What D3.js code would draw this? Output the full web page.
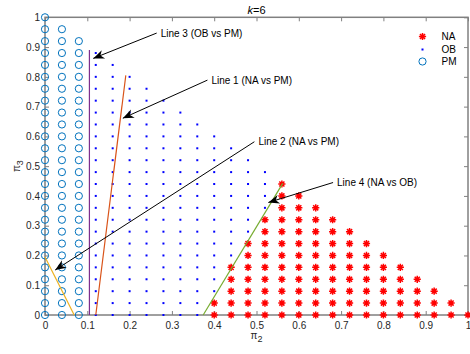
<!DOCTYPE html>
<html>
<head>
<meta charset="utf-8">
<script src="https://cdn.jsdelivr.net/npm/d3@7/dist/d3.min.js"></script>
<style>
  html, body { margin: 0; padding: 0; background: #fff; }
  svg { display: block; font-family: "Liberation Sans", Arial, Helvetica, sans-serif; }
</style>
</head>
<body>
<svg id="chart" width="470" height="354"></svg>
<script>
// ---------------- data ----------------
const gridStep = 0.04;
const tickValues = [0, 0.1, 0.2, 0.3, 0.4, 0.5, 0.6, 0.7, 0.8, 0.9, 1];
const tickLabels = ["0", "0.1", "0.2", "0.3", "0.4", "0.5", "0.6", "0.7", "0.8", "0.9", "1"];

// PM region: columns of pi2, each from pi3 = 0 to 1 - pi2
const pmColumns = [0, 0.04, 0.08];
const pmBottom  = [0, 0, 0];
const pmTop     = [1.00, 0.96, 0.92];

// OB region: columns of pi2 with lowest / highest pi3
const obColumns = [0.12, 0.16, 0.20, 0.24, 0.28, 0.32, 0.36, 0.40, 0.44, 0.48, 0.52];
const obBottom  = [0, 0, 0, 0, 0, 0, 0, 0.08, 0.20, 0.28, 0.36];
const obTop     = [0.88, 0.84, 0.80, 0.76, 0.72, 0.68, 0.64, 0.60, 0.56, 0.52, 0.48];

// NA region
const naColumns = [0.40, 0.44, 0.48, 0.52, 0.56, 0.60, 0.64, 0.68, 0.72, 0.76, 0.80, 0.84, 0.88, 0.92, 0.96, 1.00];
const naBottom  = [0, 0, 0, 0, 0, 0, 0, 0, 0, 0, 0, 0, 0, 0, 0, 0];
const naTop     = [0.04, 0.16, 0.24, 0.32, 0.44, 0.40, 0.36, 0.32, 0.28, 0.24, 0.20, 0.16, 0.12, 0.08, 0.04, 0];

// boundary lines (pi2, pi3 endpoints)
const line1 = [[0.120, 0], [0.191, 0.805]];   // NA vs PM
const line2 = [[0, 0.195], [0.069, 0]];       // NA vs PM
const line3 = [[0.105, 0], [0.105, 0.89]];    // OB vs PM
const line4 = [[0.374, 0], [0.562, 0.442]];   // NA vs OB

const annotationTexts = ["Line 1 (NA vs PM)", "Line 2 (NA vs PM)", "Line 3 (OB vs PM)", "Line 4 (NA vs OB)"];
// arrow tail (at label) and tip, in data units
const arrowTails = [[0.384, 0.789], [0.495, 0.582], [0.264, 0.947], [0.681, 0.445]];
const arrowTips  = [[0.184, 0.661], [0.024, 0.151], [0.114, 0.862], [0.528, 0.378]];

const legendLabels = ["NA", "OB", "PM"];

// ---------------- layout ----------------
const svg = d3.select("#chart");
const x = d3.scaleLinear().domain([0, 1]).range([45, 468]);
const y = d3.scaleLinear().domain([0, 1]).range([315, 17.3]);

const axisColor = "#808080";
const textColor = "#262626";
const colNA = "#ff0000", colOB = "#0000ff", colPM = "#0072bd";
const lineColors = ["#d95319", "#edb120", "#7e2f8e", "#77ac30"];

function columnPoints(cols, bottoms, tops) {
  const pts = [];
  cols.forEach((c, i) => {
    const n = Math.round((tops[i] - bottoms[i]) / gridStep);
    for (let k = 0; k <= n; k++) pts.push([c, bottoms[i] + k * gridStep]);
  });
  return pts;
}

// ---------------- axes ----------------
const axG = svg.append("g");
function styleAxis(g) {
  g.select(".domain").remove();
  g.selectAll(".tick line").attr("stroke", axisColor).attr("stroke-width", 1);
  g.selectAll(".tick text").attr("fill", textColor).attr("font-size", 10)
    .attr("font-family", "Liberation Sans, Arial, sans-serif");
}
axG.append("g").attr("transform", `translate(0,${y(0)})`)
  .call(d3.axisBottom(x).tickValues(tickValues).tickFormat((d, i) => tickLabels[i]).tickSize(-4).tickPadding(7))
  .call(styleAxis);
axG.append("g").attr("transform", `translate(0,${y(1)})`)
  .call(d3.axisTop(x).tickValues(tickValues).tickFormat("").tickSize(-4))
  .call(styleAxis);
axG.append("g").attr("transform", `translate(${x(0)},0)`)
  .call(d3.axisLeft(y).tickValues(tickValues).tickFormat((d, i) => tickLabels[i]).tickSize(-4).tickPadding(5))
  .call(styleAxis);
axG.append("g").attr("transform", `translate(${x(1)},0)`)
  .call(d3.axisRight(y).tickValues(tickValues).tickFormat("").tickSize(-4))
  .call(styleAxis);
axG.append("rect")
  .attr("x", x(0)).attr("y", y(1)).attr("width", x(1) - x(0)).attr("height", y(0) - y(1))
  .attr("fill", "none").attr("stroke", axisColor).attr("stroke-width", 1.5);

// ---------------- markers ----------------
const starPath = (cx, cy, r) => {
  const d = r * 0.7071;
  return `M${cx - r},${cy}L${cx + r},${cy}M${cx},${cy - r}L${cx},${cy + r}` +
         `M${cx - d},${cy - d}L${cx + d},${cy + d}M${cx - d},${cy + d}L${cx + d},${cy - d}`;
};

const pmPts = columnPoints(pmColumns, pmBottom, pmTop);
svg.append("g").selectAll("circle").data(pmPts).join("circle")
  .attr("cx", d => x(d[0])).attr("cy", d => y(d[1])).attr("r", 3.6)
  .attr("fill", "none").attr("stroke", colPM).attr("stroke-width", 1);

const obPts = columnPoints(obColumns, obBottom, obTop);
svg.append("g").selectAll("rect").data(obPts).join("rect")
  .attr("x", d => x(d[0]) - 1).attr("y", d => y(d[1]) - 1).attr("width", 2).attr("height", 2)
  .attr("fill", colOB);

const naPts = columnPoints(naColumns, naBottom, naTop);
svg.append("g").selectAll("path").data(naPts).join("path")
  .attr("d", d => starPath(x(d[0]), y(d[1]), 3.6))
  .attr("stroke", colNA).attr("stroke-width", 1.5).attr("fill", "none");

// ---------------- boundary lines ----------------
const lineGen = d3.line().x(d => x(d[0])).y(d => y(d[1]));
[line1, line2, line3, line4].forEach((ln, i) => {
  svg.append("path").attr("d", lineGen(ln)).attr("stroke", lineColors[i])
    .attr("stroke-width", 1.2).attr("fill", "none");
});

// ---------------- annotations ----------------
function arrowHead(tx, ty, fx, fy) {
  const ang = Math.atan2(ty - fy, tx - fx);
  const L = 11, W = 4.5;
  const pts = [[0, 0], [-L, -W], [-L * 0.7, 0], [-L, W]].map(([a, b]) => [
    tx + a * Math.cos(ang) - b * Math.sin(ang),
    ty + a * Math.sin(ang) + b * Math.cos(ang)
  ]);
  return "M" + pts.map(p => p.join(",")).join("L") + "Z";
}
const annG = svg.append("g");
annotationTexts.forEach((t, i) => {
  const [fx, fy] = [x(arrowTails[i][0]), y(arrowTails[i][1])];
  const [tx, ty] = [x(arrowTips[i][0]), y(arrowTips[i][1])];
  annG.append("line").attr("x1", fx).attr("y1", fy).attr("x2", tx).attr("y2", ty)
    .attr("stroke", "#000").attr("stroke-width", 1);
  annG.append("path").attr("d", arrowHead(tx, ty, fx, fy)).attr("fill", "#000");
  annG.append("text").attr("x", fx + 4).attr("y", fy).attr("dy", "0.35em")
    .attr("font-size", 10).attr("fill", "#000").text(t);
});

// ---------------- title & axis labels ----------------
const title = svg.append("text").attr("x", (x(0) + x(1)) / 2).attr("y", 13.5)
  .attr("text-anchor", "middle").attr("font-size", 11).attr("fill", "#000");
title.append("tspan").attr("font-style", "italic").text("k");
title.append("tspan").text("=6");

const xl = svg.append("text").attr("x", (x(0) + x(1)) / 2).attr("y", 339)
  .attr("text-anchor", "middle").attr("font-size", 10).attr("fill", textColor);
xl.append("tspan").text("π");
xl.append("tspan").attr("font-size", 9).attr("dy", 3).text("2");

const yl = svg.append("text").attr("transform", `translate(20,${(y(0) + y(1)) / 2}) rotate(-90)`)
  .attr("text-anchor", "middle").attr("font-size", 10).attr("fill", textColor);
yl.append("tspan").text("π");
yl.append("tspan").attr("font-size", 9).attr("dy", 3).text("3");

// ---------------- legend ----------------
const lg = svg.append("g");
const legY = [36.5, 49.5, 61.5];
const lgX = 422.5;
lg.append("path").attr("d", starPath(lgX, legY[0], 3.6)).attr("stroke", colNA).attr("stroke-width", 1.5);
lg.append("rect").attr("x", lgX - 1).attr("y", legY[1] - 1).attr("width", 2).attr("height", 2).attr("fill", colOB);
lg.append("circle").attr("cx", lgX).attr("cy", legY[2]).attr("r", 3.6).attr("fill", "none")
  .attr("stroke", colPM).attr("stroke-width", 1);
legendLabels.forEach((t, i) => {
  lg.append("text").attr("x", 441.5).attr("y", legY[i]).attr("dy", "0.35em")
    .attr("font-size", 10).attr("fill", "#000").text(t);
});
</script>
</body>
</html>
